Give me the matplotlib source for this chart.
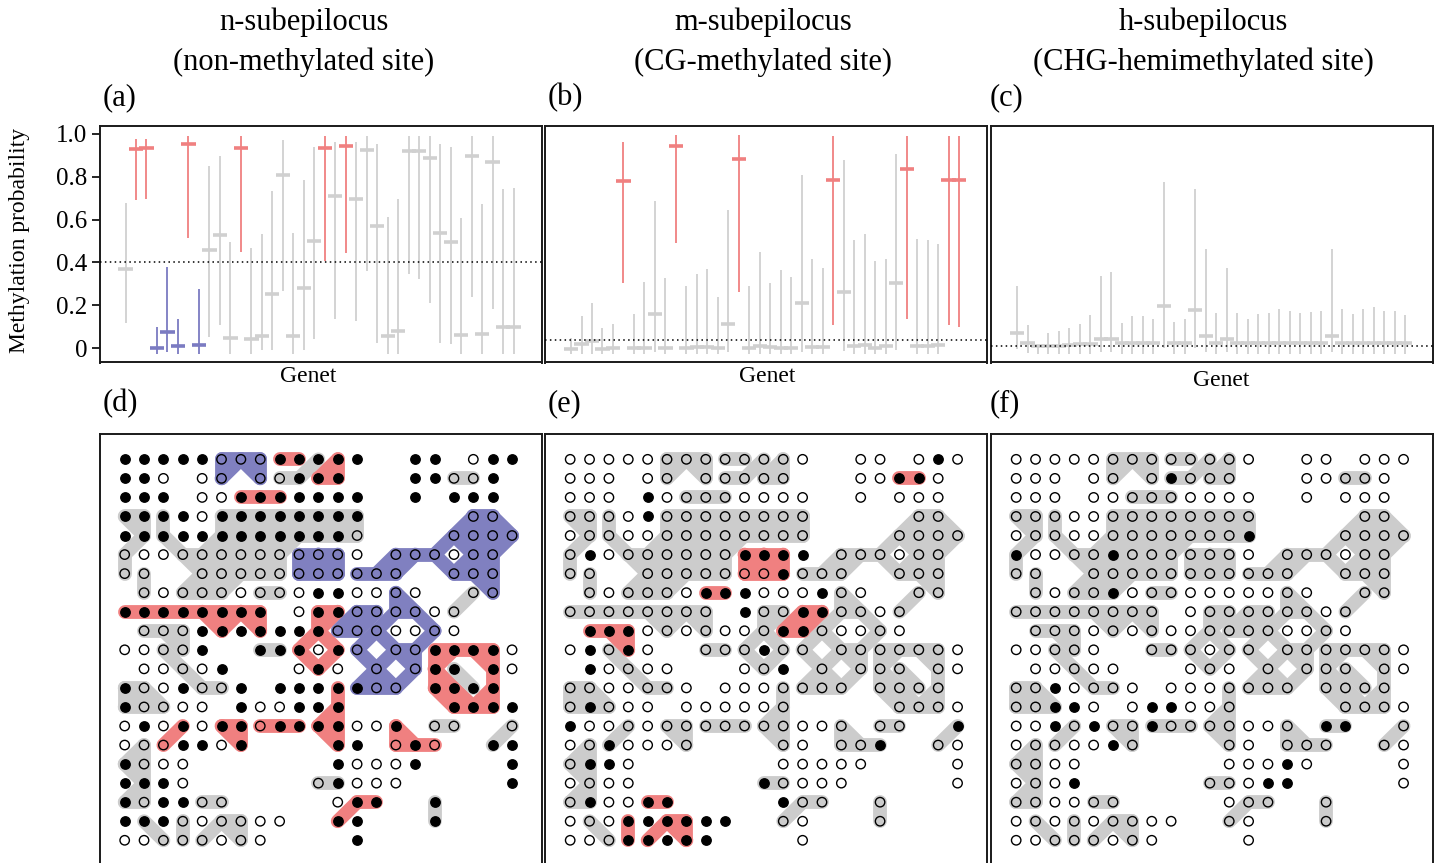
import numpy as np
import matplotlib
matplotlib.use("Agg")
import matplotlib.pyplot as plt
from matplotlib.collections import LineCollection

plt.rcParams['font.family'] = ['Liberation Serif', 'DejaVu Serif']

# ---- top row: posterior mean and interval per genet ----
mean_a = [0.370, 0.928, 0.932, 0.003, 0.075, 0.008, 0.953, 0.017, 0.457, 0.529,
          0.048, 0.936, 0.044, 0.056, 0.252, 0.810, 0.056, 0.281, 0.498, 0.936,
          0.711, 0.942, 0.694, 0.925, 0.568, 0.058, 0.082, 0.921, 0.921, 0.886,
          0.537, 0.495, 0.061, 0.896, 0.067, 0.868, 0.098, 0.098]
hi_a = [0.677, 0.977, 0.977, 0.101, 0.378, 0.138, 0.991, 0.277, 0.852, 0.897,
        0.496, 0.991, 0.468, 0.533, 0.734, 0.972, 0.537, 0.785, 0.938, 0.991,
        0.963, 0.991, 0.960, 0.991, 0.953, 0.614, 0.695, 0.991, 0.991, 0.991,
        0.953, 0.941, 0.607, 0.991, 0.673, 0.991, 0.742, 0.748]
lo_a = [0.117, 0.692, 0.695, -0.028, -0.020, -0.028, 0.513, -0.028, 0.051, 0.106,
        -0.028, 0.451, -0.028, -0.008, -0.008, 0.269, -0.028, -0.008, 0.044, 0.406,
        0.138, 0.446, 0.129, 0.362, 0.026, -0.028, -0.028, 0.345, 0.325, 0.210,
        0.026, 0.020, -0.028, 0.241, -0.028, 0.182, -0.028, -0.028]
col_a = "grrbbbrbgggrgggggggrgrgggggggggggggggg"

mean_b = [-0.005, 0.019, 0.033, -0.005, 0.000, 0.781, 0.000, 0.003, 0.159, 0.003,
          0.942, 0.003, 0.006, 0.006, 0.003, 0.114, 0.883, 0.003, 0.012, 0.006,
          0.000, 0.000, 0.212, 0.006, 0.006, 0.787, 0.264, 0.009, 0.016, 0.003,
          0.009, 0.305, 0.835, 0.012, 0.012, 0.016, 0.784, 0.784]
hi_b = [0.047, 0.151, 0.213, 0.093, 0.112, 0.963, 0.160, 0.311, 0.687, 0.327,
        0.994, 0.291, 0.347, 0.370, 0.238, 0.645, 0.994, 0.292, 0.448, 0.305,
        0.367, 0.330, 0.807, 0.414, 0.372, 0.991, 0.880, 0.504, 0.535, 0.406,
        0.417, 0.904, 0.991, 0.510, 0.504, 0.484, 0.991, 0.991]
lo_b = [-0.028, -0.028, -0.028, -0.028, -0.028, 0.303, -0.028, -0.028, -0.019, -0.028,
        0.490, -0.028, -0.028, -0.028, -0.028, -0.020, 0.261, -0.028, -0.028, -0.028,
        -0.028, -0.028, -0.020, -0.028, -0.028, 0.106, -0.012, -0.028, -0.028, -0.028,
        -0.028, -0.008, 0.135, -0.028, -0.028, -0.028, 0.109, 0.098]
col_b = "gggggrggggrgggggrggggggggrggggggrgggrr"

mean_c = [0.073, 0.026, 0.011, 0.011, 0.011, 0.014, 0.019, 0.019, 0.045, 0.045,
          0.022, 0.025, 0.025, 0.022, 0.199, 0.022, 0.022, 0.177, 0.058, 0.022,
          0.045, 0.026, 0.022, 0.025, 0.025, 0.025, 0.025, 0.025, 0.025, 0.025,
          0.058, 0.025, 0.025, 0.025, 0.025, 0.025, 0.025, 0.025]
hi_c = [0.291, 0.109, 0.014, 0.070, 0.078, 0.096, 0.114, 0.154, 0.339, 0.356,
        0.117, 0.152, 0.152, 0.135, 0.776, 0.124, 0.135, 0.742, 0.463, 0.166,
        0.376, 0.166, 0.135, 0.160, 0.166, 0.184, 0.173, 0.163, 0.170, 0.173,
        0.463, 0.184, 0.159, 0.184, 0.194, 0.173, 0.173, 0.157]
lo_c = [-0.005, -0.023, -0.028, -0.028, -0.028, -0.028, -0.028, -0.028, -0.016, -0.016,
        -0.028, -0.028, -0.028, -0.028, 0.000, -0.028, -0.028, 0.000, -0.016, -0.028,
        -0.016, -0.028, -0.028, -0.028, -0.028, -0.028, -0.028, -0.028, -0.028, -0.028,
        -0.016, -0.028, -0.028, -0.028, -0.028, -0.028, -0.028, -0.028]
col_c = "gggggggggggggggggggggggggggggggggggggg"

thresholds = [0.40, 0.036, 0.008]

# ---- bottom row: ramet map ('.' = no ramet, 'o' = lone ramet, letter = genet) ----
genet_map = [
    "oooooAAABBCDo..oo.ooo",
    "ooo.oA.ACCDD...ooEEo.",
    "ooo.ooFFFoooo..o.ooo.",
    "GGHooHHHHHHHH.....II.",
    "oGHooHHHHHHHH....IIII",
    "GooHHHHHHJJJo.IIIoII.",
    "GL..HHHHHJJJIII..III.",
    ".LoHHHoMMoooooKo..NI.",
    "OOOOOOOO.oPPQQKKoN...",
    ".VVVoOoOooPQQKooKo...",
    "ooSVo..TTPoPK.KKWWWWo",
    ".ooSoo...oPo.K.KWX.Wo",
    "YYooSSo.oooUKKK.WWXW.",
    "YYYoo.oooooU.....WWWo",
    "oooZoaabbbUUooc.dd..e",
    "ofZoooa....Uo.ccc..eo",
    "ffoo.......ooooo....o",
    "ofoo......hhooo.....o",
    "ffooii.....ojj..k....",
    "olomonnoo..jo...k....",
    "oolmnono....o........",
]

# methylated (1) / unmethylated (0) state of every ramet
fill_d = [
    "1111100011111..11.011",
    "110.00.00111...11001.",
    "111.001111111..1.111.",
    "1111011111111.....00.",
    "1111111111110....0000",
    "0000000000000.000000.",
    "00..00000000000..000.",
    ".000000000110000..00.",
    "11111111.011000000...",
    ".00011111110000000...",
    "00001..111010.0011110",
    ".00001...010.0.011.10",
    "1001001.1111100.1111.",
    "10000.100111.....1111",
    "010101101111001.00..0",
    "0001101....11.010..11",
    "1000.......10001....1",
    "1110......01000.....1",
    "101100.....011..1....",
    "111000000..11...1....",
    "00000000....1........",
]
fill_e = [
    "0000000000000..00.010",
    "000.00.00000...00110.",
    "000.100000000..0.000.",
    "0000100000000.....00.",
    "0000000000000....0000",
    "0100000001111.000000.",
    "00..00000001000..000.",
    ".000000111000100..00.",
    "00000000.100110000...",
    ".11100000001100000...",
    "01010..000100.0000000",
    ".10000...001.0.000.00",
    "0000000.0000000.0000.",
    "01000.000000.....0000",
    "100000000000000.00..1",
    "0010000....00.001..00",
    "0110.......00000....0",
    "0000......10000.....0",
    "010011.....100..0....",
    "000111111..00...0....",
    "00011111....0........",
]
fill_f = [
    "0000000000000..00.000",
    "000.00.01000...00000.",
    "000.000000000..0.000.",
    "0000000000000.....00.",
    "0000000000001....0000",
    "1000010000000.000000.",
    "00..00000000000..000.",
    ".000010000000000..00.",
    "00000000.000000000...",
    ".00000000000000000...",
    "00000..000000.0000000",
    ".00000...000.0.000.00",
    "0010000.0000000.0000.",
    "00110.011000.....0000",
    "001010010000000.11..0",
    "0000010....00.000..00",
    "0000.......00010....0",
    "0001......00011.....0",
    "000000.....000..0....",
    "000000000..00...0....",
    "00000000....0........",
]

red_genets = [set("BDFOPUWZabcj"), set("EJMQVimn"), set()]
blue_genets = [set("AIJKQ"), set(), set()]

titles = [("n-subepilocus", "(non-methylated site)"),
          ("m-subepilocus", "(CG-methylated site)"),
          ("h-subepilocus", "(CHG-hemimethylated site)")]

# ---- layout ----
W, H = 1438, 863
fig = plt.figure(figsize=(W / 100, H / 100), dpi=100)


def px_axes(left, top, width, height):
    return fig.add_axes([left / W, 1 - (top + height) / H, width / W, height / H])


def ftext(x, y, s, **kw):
    fig.text(x / W, 1 - y / H, s, **kw)


lefts = [99.5, 545, 991]
bar_col = {'g': '#d0d0d0', 'r': '#f08080', 'b': '#7b7bc2'}
band_col = {'g': '#cccccc', 'r': '#f08080', 'b': '#8080c0'}

top_data = [(mean_a, lo_a, hi_a, col_a), (mean_b, lo_b, hi_b, col_b),
            (mean_c, lo_c, hi_c, col_c)]

for k, (mu, lo, hi, cols) in enumerate(top_data):
    ax = px_axes(lefts[k], 126, 442, 236.5)
    x = np.arange(1, len(mu) + 1)
    colors = [bar_col[c] for c in cols]
    ax.vlines(x, lo, hi, colors=colors, lw=1.3, zorder=2)
    ax.hlines(mu, x - 0.68, x + 0.68, colors=colors, lw=2.6, zorder=3)
    ax.axhline(thresholds[k], color='black', lw=1.1, ls=(0, (1, 2.2)), zorder=4)
    ax.set_xlim(-1.48, 40.66)
    ax.set_ylim(-0.067, 1.037)
    ax.set_xticks([])
    for sp in ax.spines.values():
        sp.set_linewidth(1.4)
        sp.set_color('#1a1a1a')
    if k == 0:
        ax.set_yticks([0, 0.2, 0.4, 0.6, 0.8, 1.0])
        ax.set_yticklabels(['0', '0.2', '0.4', '0.6', '0.8', '1.0'], fontsize=18)
        ax.tick_params(axis='y', length=6, width=1.2, pad=3)
    else:
        ax.set_yticks([])

# ---- bottom row: genet maps ----
cells = {}
for r, row in enumerate(genet_map):
    for c, ch in enumerate(row):
        if ch not in '.o':
            cells.setdefault(ch, []).append((r, c))
order = sorted(cells, key=lambda s: (s.islower(), s))

spacing_px = 19.2
band_lw = 0.72 * spacing_px * 72 / 100

for k, fills in enumerate([fill_d, fill_e, fill_f]):
    ax = px_axes(lefts[k], 434, 442, 432)
    ax.set_xlim(-1.3, 21.52)
    ax.set_ylim(21.35, -1.33)
    ax.set_xticks([])
    ax.set_yticks([])
    for sp in ax.spines.values():
        sp.set_linewidth(1.4)
        sp.set_color('#1a1a1a')

    for z, g in enumerate(order):
        pts = cells[g]
        segs = []
        for i in range(len(pts)):
            for j in range(i + 1, len(pts)):
                (r1, c1), (r2, c2) = pts[i], pts[j]
                if abs(r1 - r2) <= 1 and abs(c1 - c2) <= 1:
                    segs.append([(c1, r1), (c2, r2)])
        if g in red_genets[k]:
            col = band_col['r']
        elif g in blue_genets[k]:
            col = band_col['b']
        else:
            col = band_col['g']
        lc = LineCollection(segs, colors=col, linewidths=band_lw,
                            capstyle='round', joinstyle='round', zorder=2 + z * 0.01)
        ax.add_collection(lc)

    ox, oy, fx, fy = [], [], [], []
    for r, row in enumerate(fills):
        for c, ch in enumerate(row):
            if ch == '1':
                fx.append(c)
                fy.append(r)
            elif ch == '0':
                ox.append(c)
                oy.append(r)
    ax.scatter(ox, oy, s=46, facecolors='none', edgecolors='black', linewidths=1.0, zorder=5)
    ax.scatter(fx, fy, s=46, facecolors='black', edgecolors='black', linewidths=1.0, zorder=5)

# ---- text ----
title_x = [304, 763, 1203]
for k in range(3):
    ftext(title_x[k], 22, titles[k][0], ha='center', va='center', fontsize=22)
    ftext(title_x[k], 62, titles[k][1], ha='center', va='center', fontsize=22)

label_x = [103, 548, 990]
for k, lab in enumerate(['(a)', '(b)', '(c)']):
    ftext(label_x[k], 98, lab, ha='left', va='center', fontsize=22)
for k, lab in enumerate(['(d)', '(e)', '(f)']):
    ftext(label_x[k], 404, lab, ha='left', va='center', fontsize=22)

for k, gx in enumerate([308, 767, 1221]):
    ftext(gx, 377 if k < 2 else 380, 'Genet', ha='center', va='center', fontsize=17)

ftext(20, 240, 'Methylation probability', ha='center', va='center',
      rotation=90, fontsize=17)

fig.savefig('out.png', dpi=100)
